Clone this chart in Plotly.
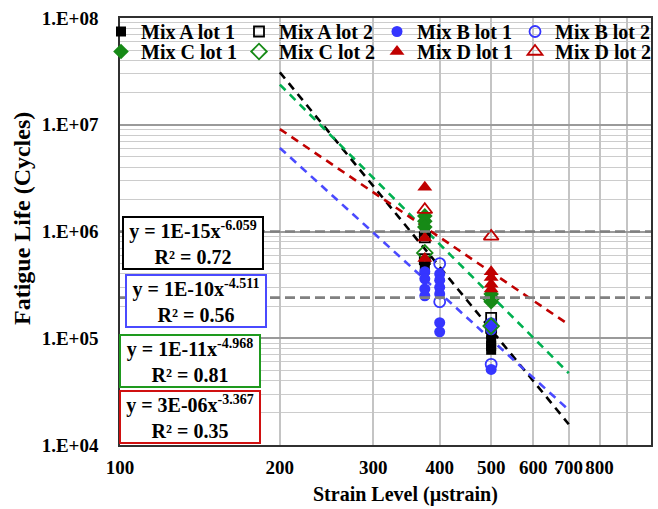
import numpy as np
import plotly.graph_objects as go

# ---------------- data ----------------
A1_strain = [375, 375, 375, 500, 500, 500, 500]
A1_life = [1.0e6, 5.3e5, 4.4e5, 1.1e5, 9.5e4, 8.5e4, 7.8e4]
A2_strain = [375, 375, 500, 500]
A2_life = [8.8e5, 5.5e5, 1.55e5, 1.25e5]
B1_strain = [375, 375, 375, 375, 400, 400, 400, 400, 400, 400, 500, 500, 500]
B1_life = [4.2e5, 3.6e5, 2.9e5, 2.5e5, 4.0e5, 3.5e5, 3.0e5, 2.6e5, 1.4e5, 1.15e5, 1.4e5, 1.2e5, 5.1e4]
B2_strain = [400, 400, 500, 500]
B2_life = [5.0e5, 2.2e5, 1.35e5, 5.7e4]
C1_strain = [375, 375, 375, 500, 500]
C1_life = [1.4e6, 1.25e6, 1.1e6, 2.6e5, 2.2e5]
C2_strain = [375, 500, 500]
C2_life = [6.3e5, 2.35e5, 1.3e5]
D1_strain = [375, 375, 375, 500, 500, 500, 500]
D1_life = [2.6e6, 8.7e5, 5.6e5, 4.2e5, 3.7e5, 3.2e5, 2.9e5]
D2_strain = [375, 500]
D2_life = [1.6e6, 9.0e5]

series_names = ["Mix A lot 1", "Mix A lot 2", "Mix B lot 1", "Mix B lot 2",
                "Mix C lot 1", "Mix C lot 2", "Mix D lot 1", "Mix D lot 2"]

# power-law trendlines  N = a * (strain*1e-6)^b
fit_a = [1.2e-15, 1.25e-10, 1.0e-11, 3.2e-6]
fit_b = [-6.059, -4.511, -4.968, -3.367]
fit_r2 = [0.72, 0.56, 0.81, 0.35]
fit_label_coef = ["1E-15", "1E-10", "1E-11", "3E-06"]
fit_range = [200, 700]

ref_lives = [1.0e6, 2.4e5]

x_ticks = [100, 200, 300, 400, 500, 600, 700, 800, 900, 1000]
x_ticktext = ["100", "200", "300", "400", "500", "600", "700", "800", "", ""]
y_ticks = [1e4, 1e5, 1e6, 1e7, 1e8]
y_ticktext = ["1.E+04", "1.E+05", "1.E+06", "1.E+07", "1.E+08"]
y_minor = [m * 10 ** e for e in range(4, 8) for m in range(2, 10)]

# ---------------- style ----------------
FONT = "Liberation Serif"
BLACK = "#000000"
BLUE_M = "#3535ff"
GREEN_M = "#168a16"
RED_M = "#c00000"
line_colors = ["#000000", "#4a4aff", "#00b050", "#c00000"]
box_colors = ["#000000", "#4a4aff", "#1e9a1e", "#d01010"]

W, H = 658, 509
PL, PR, PT, PB = 120, 651, 18, 445   # plot area in pixels


def px_x(v):
    return v / W


def px_y(v):
    return 1 - v / H


fig = go.Figure()

# trendlines
xs = np.geomspace(fit_range[0], fit_range[1], 60)
for a, b, c in zip(fit_a, fit_b, line_colors):
    fig.add_trace(go.Scatter(
        x=xs, y=a * (xs * 1e-6) ** b, mode="lines", showlegend=False,
        line=dict(color=c, width=2.6, dash="8px,6px"), hoverinfo="skip"))

marker_defs = [
    (A1_strain, A1_life, dict(symbol="square", color=BLACK, size=10)),
    (A2_strain, A2_life, dict(symbol="square-open", color=BLACK, size=10, line=dict(width=1.8))),
    (B1_strain, B1_life, dict(symbol="circle", color=BLUE_M, size=11)),
    (B2_strain, B2_life, dict(symbol="circle-open", color=BLUE_M, size=11, line=dict(width=1.8))),
    (C1_strain, C1_life, dict(symbol="diamond", color=GREEN_M, size=12)),
    (C2_strain, C2_life, dict(symbol="diamond-open", color=GREEN_M, size=12, line=dict(width=1.8))),
    (D1_strain, D1_life, dict(symbol="triangle-up", color=RED_M, size=13)),
    (D2_strain, D2_life, dict(symbol="triangle-up-open", color=RED_M, size=13, line=dict(width=1.8))),
]
for i, (name, (sx, sy, mk)) in enumerate(zip(series_names, marker_defs)):
    fig.add_trace(go.Scatter(x=sx, y=sy, mode="markers", name=name, marker=mk,
                             legend="legend" if i < 4 else "legend2"))

# white band behind the legend (hides the grid there)
fig.add_shape(type="rect", xref="paper", yref="paper", x0=px_x(PL), x1=px_x(PR),
              y0=px_y(58), y1=px_y(PT),
              fillcolor="white", line=dict(width=0), layer="between")

# reference dashed lines
for v in ref_lives:
    fig.add_shape(type="line", xref="paper", x0=px_x(PL), x1=px_x(PR), yref="y", y0=v, y1=v,
                  line=dict(color="#808080", width=2.6, dash="10px,5px"), layer="above")

# equation boxes
box_px = [(122, 216), (125, 274), (119, 334), (119, 390)]
for (bx, by), coef, b, r2, col in zip(box_px, fit_label_coef, fit_b, fit_r2, box_colors):
    fig.add_annotation(
        xref="paper", yref="paper", x=px_x(bx), y=px_y(by),
        xanchor="left", yanchor="top", showarrow=False, align="center",
        text=f"y = {coef}x<sup>{b:.3f}</sup><br>R² = {r2:.2f}",
        font=dict(family=FONT, size=20, color="black", weight="bold"),
        bgcolor="white", bordercolor=col, borderwidth=2, borderpad=1,
        width=136, height=48)

# axis titles
fig.add_annotation(xref="paper", yref="paper", x=px_x(22), y=px_y(219), showarrow=False,
                   textangle=-90, xanchor="center", yanchor="middle",
                   text="Fatigue Life (Cycles)",
                   font=dict(family=FONT, size=24, color="black", weight="bold"))
fig.add_annotation(xref="paper", yref="paper", x=px_x(405), y=px_y(494), showarrow=False,
                   xanchor="center", yanchor="middle",
                   text="Strain Level (µstrain)",
                   font=dict(family=FONT, size=20, color="black", weight="bold"))

leg_common = dict(orientation="h", xanchor="left", yanchor="top",
                  bgcolor="rgba(0,0,0,0)", borderwidth=0,
                  font=dict(family=FONT, size=20, weight="bold"),
                  itemwidth=30, entrywidth=93, entrywidthmode="pixels",
                  tracegroupgap=0, valign="middle")

fig.update_layout(
    width=W, height=H,
    margin=dict(l=0, r=0, t=0, b=0, autoexpand=False),
    paper_bgcolor="white", plot_bgcolor="white",
    font=dict(family=FONT, size=19, color="black", weight="bold"),
    showlegend=True,
    legend=dict(x=px_x(101), y=px_y(12), **leg_common),
    legend2=dict(x=px_x(101), y=px_y(32), **leg_common),
)
fig.update_xaxes(
    type="log", range=[2, 3], domain=[px_x(PL), px_x(PR)],
    tickmode="array", tickvals=x_ticks, ticktext=x_ticktext,
    showgrid=True, gridcolor="#c4c4c4", gridwidth=1.5,
    showline=True, linecolor="#303030", linewidth=1.6, mirror=True,
    ticks="", ticklabelstandoff=4,
    tickfont=dict(family=FONT, size=19, weight="bold"),
)
fig.update_yaxes(
    type="log", range=[4, 8], domain=[px_y(PB), px_y(PT)],
    tickmode="array", tickvals=y_ticks, ticktext=y_ticktext,
    showgrid=True, gridcolor="#9a9a9a", gridwidth=1.5,
    minor=dict(tickmode="array", tickvals=y_minor, showgrid=True, gridcolor="#cccccc", gridwidth=1.3, ticks=""),
    showline=True, linecolor="#303030", linewidth=1.6, mirror=True,
    ticks="", ticklabelstandoff=16,
    tickfont=dict(family=FONT, size=19, weight="bold"),
)

fig.write_html("out.html")
